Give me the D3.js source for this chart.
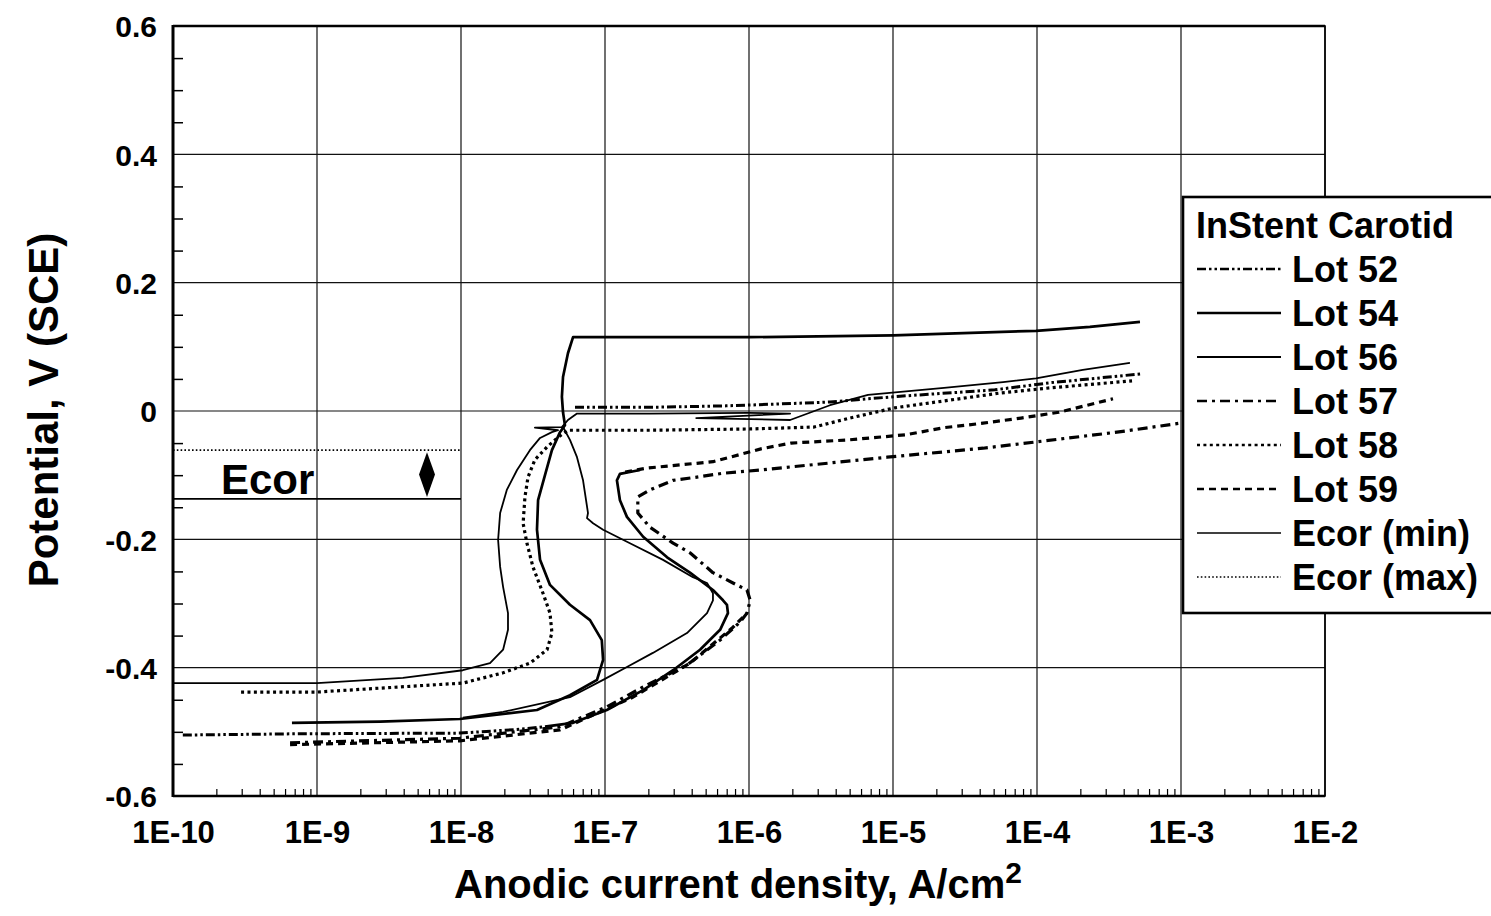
<!DOCTYPE html>
<html><head><meta charset="utf-8">
<script src="https://cdn.jsdelivr.net/npm/d3@7"></script>
<style>
html,body{margin:0;padding:0;background:#fff;}
svg{display:block;}
text{font-family:"Liberation Sans",Arial,Helvetica,sans-serif;font-weight:bold;fill:#000;}
</style></head><body>
<svg id="chart" width="1491" height="916"></svg>
<script>
// Anodic polarization curves, InStent Carotid lots.
// Each lot: list of scan segments, each a list of [current density A/cm2, potential V(SCE)].
const lot52 = [
  [[1.17e-10,-0.505],[7.6e-10,-0.503],[9.8e-9,-0.502],[2.57e-8,-0.496],[3.83e-8,-0.492]],
  [[6.19e-8,0.006],[2.41e-7,0.006],[6.92e-7,0.008],[1.64e-6,0.011],[3.65e-6,0.014],[6.7e-6,0.019],
   [1.12e-5,0.023],[5.1e-5,0.033],[1.23e-4,0.044],[5.36e-4,0.058]]
];
const lot54 = [
  [[6.7e-10,-0.486],[2.74e-9,-0.484],[9.8e-9,-0.480],[3.37e-8,-0.466],[5.71e-8,-0.443],[8.8e-8,-0.419],
   [9.7e-8,-0.388],[9.5e-8,-0.357],[7.87e-8,-0.326],[5.71e-8,-0.302],[4.15e-8,-0.271],[3.54e-8,-0.232],
   [3.37e-8,-0.185],[3.43e-8,-0.139],[3.83e-8,-0.100],[4.28e-8,-0.061],[4.87e-8,-0.033],[5.27e-8,-0.022],
   [5.11e-8,-0.002],[5.02e-8,0.022],[5.11e-8,0.053],[5.53e-8,0.090],[6.0e-8,0.115],[1.0e-6,0.115],
   [1.0e-5,0.118],[9.84e-5,0.125],[2.33e-4,0.131],[5.19e-4,0.139]],
  [[3.83e-8,-0.492],[6.0e-8,-0.486],[1.03e-7,-0.466],[1.84e-7,-0.435],[2.97e-7,-0.404],[4.57e-7,-0.372],
   [6.3e-7,-0.341],[7.14e-7,-0.315],[7.03e-7,-0.302],[6.6e-7,-0.295],[5.62e-7,-0.279],[3.89e-7,-0.252],
   [2.70e-7,-0.228],[1.84e-7,-0.196],[1.42e-7,-0.165],[1.27e-7,-0.139],[1.21e-7,-0.108],[1.27e-7,-0.098],
   [1.75e-7,-0.092]]
];
const lot56 = [
  [[1.0e-10,-0.424],[1.0e-9,-0.424],[3.95e-9,-0.416],[1.03e-8,-0.404],[1.59e-8,-0.393],[1.96e-8,-0.372],
   [2.12e-8,-0.341],[2.12e-8,-0.315],[1.96e-8,-0.274],[1.87e-8,-0.243],[1.81e-8,-0.201],[1.87e-8,-0.159],
   [2.08e-8,-0.123],[2.45e-8,-0.092],[3.01e-8,-0.061],[3.54e-8,-0.042],[4.28e-8,-0.033],[4.72e-8,-0.030],
   [3.26e-8,-0.026],[5.02e-8,-0.025],[5.53e-8,-0.014],[6.39e-8,-0.004],[2.05e-7,-0.004],[1.0e-6,-0.003],
   [1.93e-6,-0.004],[4.3e-7,-0.011],[1.93e-6,-0.014],[3.65e-6,0.009],[6.7e-6,0.025],
   [2.26e-5,0.036],[5.81e-5,0.045],[9.84e-5,0.051],[2.08e-4,0.064],[4.42e-4,0.075]],
  [[1.03e-8,-0.478],[1.96e-8,-0.469],[5.71e-8,-0.446],[9.7e-8,-0.419],[1.42e-7,-0.399],[2.15e-7,-0.377],
   [3.71e-7,-0.346],[5.11e-7,-0.315],[5.62e-7,-0.295],[5.62e-7,-0.284],[5.11e-7,-0.268],[4.08e-7,-0.259],
   [2.53e-7,-0.232],[1.49e-7,-0.206],[9.7e-8,-0.185],[8.26e-8,-0.175],[7.5e-8,-0.167],[7.62e-8,-0.159],
   [7.04e-8,-0.108],[6.39e-8,-0.072],[5.71e-8,-0.045],[5.11e-8,-0.025]]
];
const lot57 = [
  [[6.5e-10,-0.517],[9.8e-9,-0.510],[4.87e-8,-0.492],[1.03e-7,-0.461],[1.84e-7,-0.430],[3.71e-7,-0.396],
   [6.3e-7,-0.357],[8.66e-7,-0.329],[9.68e-7,-0.315],[1.02e-6,-0.295],[9.68e-7,-0.279],[7.74e-7,-0.268],
   [5.62e-7,-0.252],[3.89e-7,-0.221],[2.97e-7,-0.206],[2.05e-7,-0.181],[1.69e-7,-0.159],[1.69e-7,-0.134],
   [2.05e-7,-0.123],[2.97e-7,-0.108],[4.35e-7,-0.103],[6.6e-7,-0.097],[1.19e-6,-0.092],[3.65e-6,-0.081],
   [9.1e-6,-0.072],[4.22e-5,-0.058],[1.0e-4,-0.048],[3.59e-4,-0.033],[9.84e-4,-0.019],[3.0e-3,-0.006]]
];
const lot58 = [
  [[2.97e-10,-0.438],[1.0e-9,-0.438],[1.03e-8,-0.424],[1.96e-8,-0.408],[3.01e-8,-0.393],[3.96e-8,-0.372],
   [4.28e-8,-0.346],[4.15e-8,-0.315],[3.71e-8,-0.284],[3.16e-8,-0.243],[2.87e-8,-0.206],[2.70e-8,-0.175],
   [2.78e-8,-0.134],[2.92e-8,-0.103],[3.26e-8,-0.076],[3.96e-8,-0.056],[4.72e-8,-0.041],[5.53e-8,-0.030],
   [2.05e-7,-0.030],[1.02e-6,-0.028],[2.83e-6,-0.025],[5.02e-6,-0.011],[1.03e-5,0.005],[2.49e-5,0.017],
   [5.53e-5,0.028],[1.23e-4,0.036],[4.57e-4,0.047]]
];
const lot59 = [
  [[6.5e-10,-0.520],[9.8e-9,-0.514],[4.87e-8,-0.497],[1.56e-7,-0.446],[3.89e-7,-0.393],[7.74e-7,-0.337],
   [9.68e-7,-0.315]],
  [[1.38e-7,-0.095],[1.96e-7,-0.089],[3.32e-7,-0.084],[5.62e-7,-0.079],[7.38e-7,-0.072],[1.21e-6,-0.059],
   [1.96e-6,-0.050],[4.95e-6,-0.045],[1.23e-5,-0.037],[2.26e-5,-0.026],[4.22e-5,-0.019],[7.74e-5,-0.011],
   [1.42e-4,-0.002],[3.37e-4,0.019]]
];
// Corrosion potential band (V), drawn across the low-current decades
const ecorMin = -0.137;
const ecorMax = -0.061;
const ecorSpan = [1e-10, 1e-8];

const xTicks = [1e-10,1e-9,1e-8,1e-7,1e-6,1e-5,1e-4,1e-3,1e-2];
const xTickLabels = ["1E-10","1E-9","1E-8","1E-7","1E-6","1E-5","1E-4","1E-3","1E-2"];
const yTicks = [-0.6,-0.4,-0.2,0,0.2,0.4,0.6];
const yTickLabels = ["-0.6","-0.4","-0.2","0","0.2","0.4","0.6"];
const legendTitle = "InStent Carotid";

const series = [
  {name:"Lot 52", segs:lot52, dash:"9,3,2.5,3,2.5,3", w:3},
  {name:"Lot 54", segs:lot54, dash:null, w:2.7},
  {name:"Lot 56", segs:lot56, dash:null, w:1.8},
  {name:"Lot 57", segs:lot57, dash:"10,5,3,5", w:3.2},
  {name:"Lot 58", segs:lot58, dash:"3,3.4", w:3.2},
  {name:"Lot 59", segs:lot59, dash:"7,5", w:3.2}
];

const svg = d3.select("#chart");
const L = 173, R = 1325, T = 26, B = 796;
const x = d3.scaleLog().domain([1e-10,1e-2]).range([L,R]);
const y = d3.scaleLinear().domain([-0.6,0.6]).range([B,T]);

svg.append("defs").append("clipPath").attr("id","plotclip")
  .append("rect").attr("x",L).attr("y",T).attr("width",R-L).attr("height",B-T);

// grid
const grid = svg.append("g").attr("stroke","#111").attr("stroke-width",1.2);
grid.selectAll("line.v").data(xTicks).join("line")
  .attr("x1",d=>x(d)).attr("x2",d=>x(d)).attr("y1",T).attr("y2",B);
grid.selectAll("line.h").data(yTicks).join("line")
  .attr("x1",L).attr("x2",R).attr("y1",d=>y(d)).attr("y2",d=>y(d));

// minor ticks
const xMinor = [];
for (let e=-10;e<-2;e++) for (let m=2;m<=9;m++) xMinor.push(m*Math.pow(10,e));
svg.append("g").attr("transform",`translate(0,${B})`)
  .call(d3.axisBottom(x).tickValues(xMinor).tickSize(-7).tickFormat(""))
  .call(g=>g.select(".domain").remove())
  .call(g=>g.selectAll("line").attr("stroke","#000").attr("stroke-width",1.2));
const yMinor = d3.range(-0.55,0.6,0.05).filter(v=>Math.abs(Math.round(v*5)-v*5)>0.01);
svg.append("g").attr("transform",`translate(${L},0)`)
  .call(d3.axisLeft(y).tickValues(yMinor).tickSize(-10).tickFormat(""))
  .call(g=>g.select(".domain").remove())
  .call(g=>g.selectAll("line").attr("stroke","#000").attr("stroke-width",1.5));

// frame
svg.append("rect").attr("x",L).attr("y",T).attr("width",R-L).attr("height",B-T)
  .attr("fill","none").attr("stroke","#000").attr("stroke-width",1.6);
svg.append("line").attr("x1",L).attr("x2",L).attr("y1",T-1).attr("y2",B+1).attr("stroke","#000").attr("stroke-width",3);
svg.append("line").attr("x1",L).attr("x2",R).attr("y1",B).attr("y2",B).attr("stroke","#000").attr("stroke-width",2.6);
svg.append("line").attr("x1",L).attr("x2",R).attr("y1",T).attr("y2",T).attr("stroke","#000").attr("stroke-width",2.4);

// tick labels
svg.append("g").attr("transform",`translate(0,${B})`)
  .call(d3.axisBottom(x).tickValues(xTicks).tickSize(0).tickPadding(0)
    .tickFormat((d,i)=>xTickLabels[i]))
  .call(g=>g.select(".domain").remove())
  .call(g=>g.selectAll("text").attr("y",47).attr("dy",null)
     .style("font-size","31px").style("font-family","'Liberation Sans',Arial,sans-serif").style("font-weight","bold").attr("fill","#000"));
svg.append("g").attr("transform",`translate(${L},0)`)
  .call(d3.axisLeft(y).tickValues(yTicks).tickSize(0).tickPadding(0)
    .tickFormat((d,i)=>yTickLabels[i]))
  .call(g=>g.select(".domain").remove())
  .call(g=>g.selectAll("text").attr("x",-16).attr("dy","0.36em")
     .style("font-size","30px").style("font-family","'Liberation Sans',Arial,sans-serif").style("font-weight","bold").attr("fill","#000"));

// axis titles
const xt = svg.append("text").attr("x",738).attr("y",898).attr("text-anchor","middle").style("font-size","40px");
xt.append("tspan").text("Anodic current density, A/cm");
xt.append("tspan").text("2").attr("dy",-15).style("font-size","30px");
svg.append("text").attr("transform","translate(58,410) rotate(-90)").attr("text-anchor","middle")
  .style("font-size","42px").text("Potential, V (SCE)");

// Ecor band
const ecor = svg.append("g");
ecor.append("line").attr("x1",x(ecorSpan[0])).attr("x2",x(ecorSpan[1]))
  .attr("y1",y(ecorMax)).attr("y2",y(ecorMax)).attr("stroke","#000").attr("stroke-width",1.6).attr("stroke-dasharray","1.6,2.2");
ecor.append("line").attr("x1",x(ecorSpan[0])).attr("x2",x(ecorSpan[1]))
  .attr("y1",y(ecorMin)).attr("y2",y(ecorMin)).attr("stroke","#000").attr("stroke-width",1.6);
ecor.append("text").attr("x",221).attr("y",494).style("font-size","42px").text("Ecor");
const ax = 427, ya = y(ecorMax)+2, yb = y(ecorMin)-2, ym = (ya+yb)/2;
ecor.append("path").attr("d",`M${ax},${ya} L${ax+8},${ym} L${ax},${yb} L${ax-8},${ym} Z`).attr("fill","#000");

// curves
const line = d3.line().x(d=>x(d[0])).y(d=>y(d[1]));
const curves = svg.append("g").attr("clip-path","url(#plotclip)").attr("fill","none").attr("stroke","#000");
series.forEach(s=>{
  s.segs.forEach(seg=>{
    curves.append("path").attr("d",line(seg)).attr("stroke-width",s.w)
      .attr("stroke-dasharray",s.dash).attr("stroke-linejoin","round");
  });
});

// legend
const lg = svg.append("g");
lg.append("rect").attr("x",1183).attr("y",197).attr("width",330).attr("height",416)
  .attr("fill","#fff").attr("stroke","#000").attr("stroke-width",2.6);
lg.append("text").attr("x",1196).attr("y",238).style("font-size","36px").text(legendTitle);
const legItems = series.map(s=>({name:s.name,dash:s.dash,w:s.w}))
  .concat([{name:"Ecor (min)",dash:null,w:1.6},{name:"Ecor (max)",dash:"1.6,2.2",w:1.6}]);
legItems.forEach((d,i)=>{
  const by = 282 + i*44;
  lg.append("line").attr("x1",1197).attr("x2",1281).attr("y1",by-13).attr("y2",by-13)
    .attr("stroke","#000").attr("stroke-width",Math.min(d.w,2.6)).attr("stroke-dasharray",d.dash);
  lg.append("text").attr("x",1292).attr("y",by).style("font-size","36px").text(d.name);
});
</script></body></html>
